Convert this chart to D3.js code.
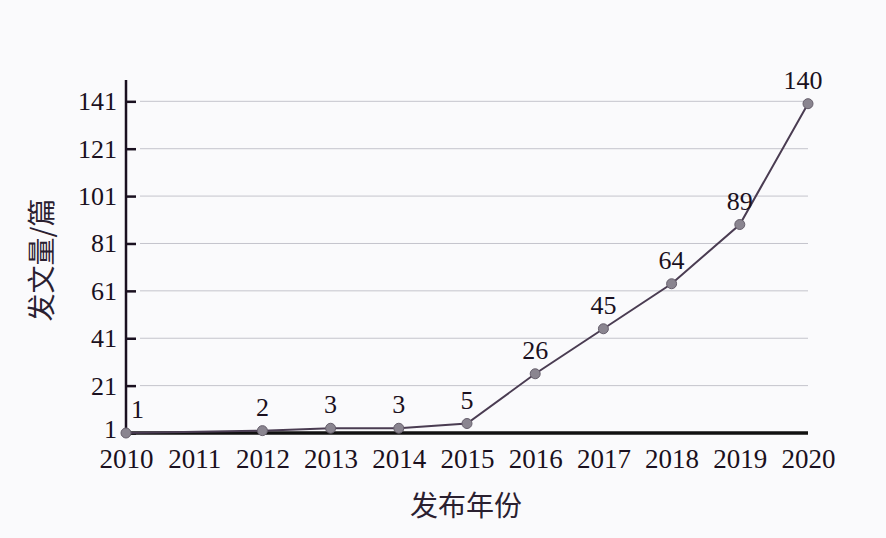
<!DOCTYPE html>
<html>
<head>
<meta charset="utf-8">
<script src="https://cdn.jsdelivr.net/npm/d3@7"></script>
<style>
  body { margin: 0; background: #fafafc; }
  svg { display: block; }
</style>
</head>
<body>
<script>
// years on the x axis (2011 has no data point)
var years = ['2010', '2011', '2012', '2013', '2014', '2015', '2016', '2017', '2018', '2019', '2020'];
// papers published per year
var counts = [1, null, 2, 3, 3, 5, 26, 45, 64, 89, 140];
// y tick labels
var yTicks = [1, 21, 41, 61, 81, 101, 121, 141];

var w = 886;
var h = 538;
var serif = "'Liberation Serif', 'DejaVu Serif', serif";
var cjk = "'Noto Sans CJK SC', sans-serif";

var svg = d3.select('body')
            .append('svg')
            .attr('width', w)
            .attr('height', h)
            .style('background-color', '#fafafc');

var x = d3.scalePoint()
          .domain(years)
          .range([126, 808]);

var y = d3.scaleLinear()
          .domain([1, 150])
          .range([433, 80]);

// grid lines
svg.selectAll('.grid')
  .data(yTicks.slice(1))
  .enter()
  .append('line')
  .attr('class', 'grid')
  .attr('x1', 140)
  .attr('x2', 808)
  .attr('y1', function(d) { return y(d); })
  .attr('y2', function(d) { return y(d); })
  .attr('stroke', '#c4c4cc')
  .attr('stroke-width', 1);

// y axis, ticks pointing into the plot
var yAxis = svg.append('g')
  .attr('transform', 'translate(126,0)')
  .call(d3.axisRight(y).tickValues(yTicks).tickSize(10).tickFormat(''));
yAxis.select('.domain').remove();
yAxis.selectAll('.tick line').attr('stroke', '#1a1020').attr('stroke-width', 2.5);

svg.append('line')
  .attr('x1', 126).attr('x2', 126)
  .attr('y1', 80).attr('y2', 434)
  .attr('stroke', '#1a1020')
  .attr('stroke-width', 2.5);

svg.selectAll('.ylab')
  .data(yTicks)
  .enter()
  .append('text')
  .attr('class', 'ylab')
  .attr('x', 117)
  // the bottom label sits a little higher so it clears the year labels
  .attr('y', function(d, i) { return y(d) + (i === 0 ? 5 : 9); })
  .attr('text-anchor', 'end')
  .style('font-family', serif)
  .style('font-size', '26px')
  .attr('fill', '#1a1020')
  .text(function(d) { return d; });

// x axis
var xAxis = svg.append('g')
  .attr('transform', 'translate(0,433)')
  .call(d3.axisBottom(x).tickSize(0).tickPadding(16));
xAxis.select('.domain')
  .attr('stroke', '#111')
  .attr('stroke-width', 3.5)
  .attr('d', 'M' + x('2010') + ',0H' + x('2020'));
xAxis.selectAll('.tick text')
  .style('font-family', serif)
  .style('font-size', '27px')
  .attr('fill', '#1a1020');

// line and points
var data = years.map(function(d, i) { return {year: d, value: counts[i]}; })
  .filter(function(d) { return d.value !== null; });

var line = d3.line()
  .x(function(d) { return x(d.year); })
  .y(function(d) { return y(d.value); });

svg.append('path')
  .datum(data)
  .attr('d', line)
  .attr('fill', 'none')
  .attr('stroke', '#4a3c52')
  .attr('stroke-width', 2);

svg.selectAll('.dot')
  .data(data)
  .enter()
  .append('circle')
  .attr('class', 'dot')
  .attr('cx', function(d) { return x(d.year); })
  .attr('cy', function(d) { return y(d.value); })
  .attr('r', 5)
  .attr('fill', '#8a8590')
  .attr('stroke', '#665f6c')
  .attr('stroke-width', 1);

svg.selectAll('.num')
  .data(data)
  .enter()
  .append('text')
  .attr('class', 'num')
  .attr('x', function(d, i) {
    if (i === 0) return x(d.year) + 5;
    return x(d.year) - (i === data.length - 1 ? 5 : 0);
  })
  .attr('y', function(d) { return y(d.value) - 15; })
  .attr('text-anchor', function(d, i) { return i === 0 ? 'start' : 'middle'; })
  .style('font-family', serif)
  .style('font-size', '26px')
  .attr('fill', '#1a1020')
  .text(function(d) { return d.value; });

// axis titles
svg.append('text')
  .attr('x', 466)
  .attr('y', 516)
  .attr('text-anchor', 'middle')
  .style('font-family', cjk)
  .style('font-size', '28px')
  .attr('fill', '#2a2030')
  .text('发布年份');

svg.append('text')
  .attr('transform', 'translate(52,260) rotate(-90)')
  .attr('text-anchor', 'middle')
  .style('font-family', cjk)
  .style('font-size', '28px')
  .attr('fill', '#2a2030')
  .text('发文量/篇');
</script>
</body>
</html>
